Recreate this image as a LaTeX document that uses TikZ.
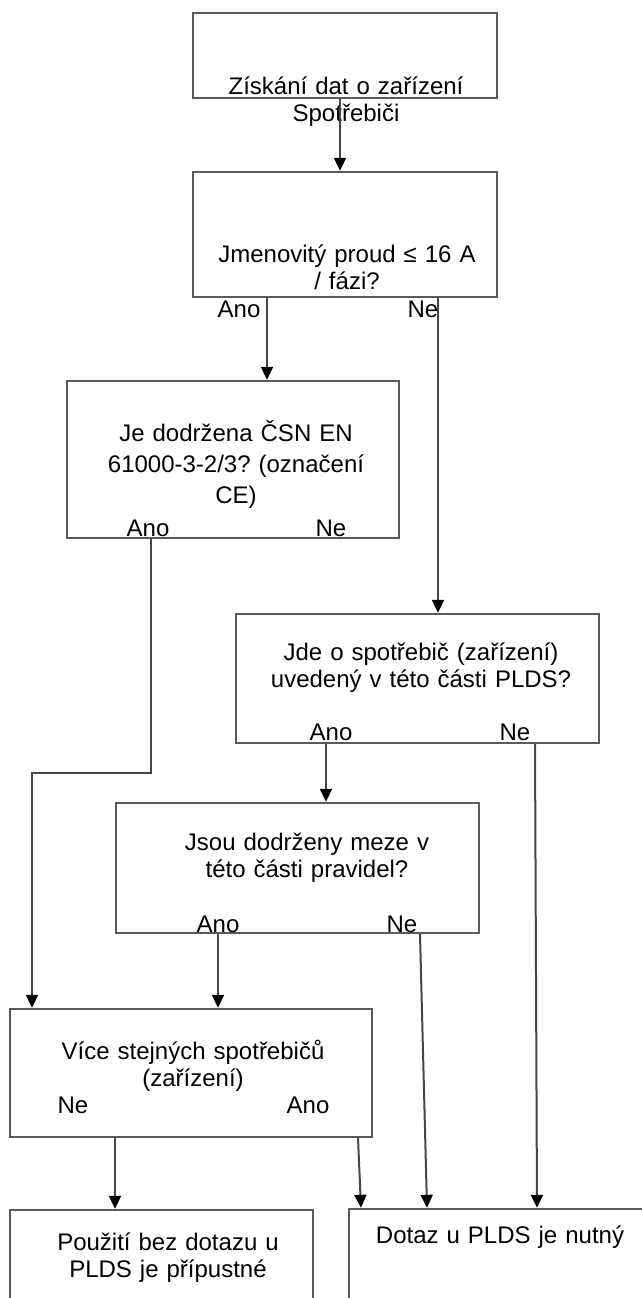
\documentclass[tikz,border=0pt]{standalone}
\usepackage{fontspec}
\setmainfont{Liberation Sans}
\usetikzlibrary{arrows.meta}
\definecolor{boxline}{RGB}{90,90,90}
\definecolor{conline}{RGB}{70,70,70}
\tikzset{
  box/.style={draw=boxline, line width=2.4pt, rectangle, inner sep=0pt, fill=none},
  txt/.style={anchor=base, inner sep=0pt, text width=#1, align=center, font=\fontsize{24}{27}\selectfont\frenchspacing},
  txt/.default=360pt,
  lab/.style={anchor=base, inner sep=0pt, font=\fontsize{24}{27}\selectfont},
  con/.style={draw=conline, line width=2pt},
  arr/.style={con, arrows={-{Triangle[width=12pt,length=13pt,color=black]}}}
}
\begin{document}
\begin{tikzpicture}[x=1pt,y=-1pt]
\useasboundingbox (0,0) rectangle (642,1298);
\clip (0,0) rectangle (642,1298);
\fill[white] (0,0) rectangle (642,1298);

% boxes
\node[box, minimum width=304pt, minimum height=85pt]  (b1) at (345,55.5) {};
\node[box, minimum width=304pt, minimum height=125pt] (b2) at (345,234.5) {};
\node[box, minimum width=332pt, minimum height=157pt] (b3) at (233,459.5) {};
\node[box, minimum width=363pt, minimum height=129pt] (b4) at (417.5,678.5) {};
\node[box, minimum width=363pt, minimum height=130pt] (b5) at (297.5,868) {};
\node[box, minimum width=362pt, minimum height=128pt] (b6) at (191,1073) {};
\node[box, minimum width=303pt, minimum height=140pt] (b7) at (161.5,1280) {};
\node[box, minimum width=340pt, minimum height=140pt] (b8) at (519,1279) {};

% texts
\node[txt] (t1) at (346,95) {Získání dat o zařízení\\Spotřebiči};
\node[txt] (t2) at (347,262) {Jmenovitý proud ≤ 16 A\\/ fázi?};
\node[txt, font=\fontsize{24}{31}\selectfont\frenchspacing] (t3) at (236,441) {Je dodržena ČSN EN\\61000-3-2/3? (označení\\CE)};
\node[txt] (t4) at (421,660) {Jde o spotřebič (zařízení)\\uvedený v této části PLDS?};
\node[txt] (t5) at (307,850) {Jsou dodrženy meze v\\této části pravidel?};
\node[txt] (t6) at (193,1059) {Více stejných spotřebičů\\(zařízení)};
\node[txt] (t7) at (168,1250) {Použití bez dotazu u\\PLDS je přípustné};
\node[txt] (t8) at (500,1243) {Dotaz u PLDS je nutný};

% branch labels
\node[lab] (l2a) at (239,317) {Ano};
\node[lab] (l2n) at (423,317) {Ne};
\node[lab] (l3a) at (148,536) {Ano};
\node[lab] (l3n) at (331,536) {Ne};
\node[lab] (l4a) at (331,740) {Ano};
\node[lab] (l4n) at (515,740) {Ne};
\node[lab] (l5a) at (218,932) {Ano};
\node[lab] (l5n) at (402,932) {Ne};
\node[lab] (l6n) at (73,1113) {Ne};
\node[lab] (l6a) at (308,1113) {Ano};

% connector x positions
\coordinate (x1) at (340,0);
\coordinate (x2a) at (267,0);
\coordinate (x2n) at (438,0);
\coordinate (x3a) at (151,0);
\coordinate (j1) at (32,773);
\coordinate (x4a) at (326,0);
\coordinate (x4n) at (535,0);
\coordinate (x4nb) at (537,0);
\coordinate (x5a) at (218,0);
\coordinate (x5n) at (420,0);
\coordinate (x5nb) at (427,0);
\coordinate (x6n) at (115,0);
\coordinate (x6a) at (358,0);
\coordinate (x6ab) at (361,0);

% connectors
\draw[arr] (b1.south -| x1) -- (b2.north -| x1);
\draw[arr] (b2.south -| x2a) -- (b3.north -| x2a);
\draw[arr] (b2.south -| x2n) -- (b4.north -| x2n);
\draw[arr] (b3.south -| x3a) |- (j1) -- (b6.north -| j1);
\draw[arr] (b4.south -| x4a) -- (b5.north -| x4a);
\draw[arr] (b4.south -| x4n) -- (b8.north -| x4nb);
\draw[arr] (b5.south -| x5a) -- (b6.north -| x5a);
\draw[arr] (b5.south -| x5n) -- (b8.north -| x5nb);
\draw[arr] (b6.south -| x6n) -- (b7.north -| x6n);
\draw[arr] (b6.south -| x6a) -- (b8.north -| x6ab);
\end{tikzpicture}
\end{document}
